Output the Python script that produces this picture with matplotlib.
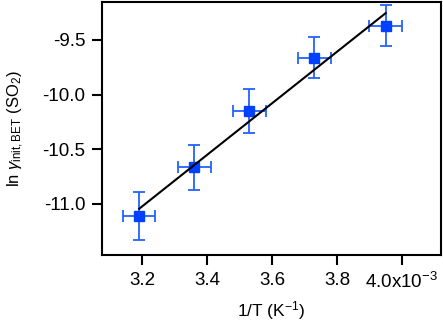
import matplotlib
matplotlib.use('Agg')
import matplotlib.pyplot as plt
from matplotlib.ticker import FuncFormatter
import numpy as np

plt.rcParams['font.family'] = ['Liberation Sans', 'DejaVu Sans']
plt.rcParams['mathtext.fontset'] = 'custom'
plt.rcParams['mathtext.rm'] = 'Liberation Sans'
plt.rcParams['mathtext.it'] = 'Liberation Sans:italic'

# data
inv_T = np.array([3.19e-3, 3.36e-3, 3.53e-3, 3.73e-3, 3.95e-3])
ln_gamma = np.array([-11.11, -10.667, -10.153, -9.662, -9.369])
x_err = np.array([0.05e-3, 0.05e-3, 0.05e-3, 0.05e-3, 0.05e-3])
y_err = np.array([0.22, 0.21, 0.20, 0.19, 0.19])
x_ticks = [3.2e-3, 3.4e-3, 3.6e-3, 3.8e-3, 4.0e-3]
y_ticks = [-11.0, -10.5, -10.0, -9.5]

fig = plt.figure(figsize=(4.43, 3.23), dpi=100)
ax = fig.add_axes([0.230, 0.211, 0.765, 0.783])

ax.errorbar(inv_T, ln_gamma, xerr=x_err, yerr=y_err, fmt='none',
            ecolor='#2462ff', elinewidth=1.3, capsize=4.5, capthick=1.3, zorder=2)
ax.plot(inv_T, ln_gamma, 's', color='#0040ff', ms=6.5, zorder=3)

# linear fit
slope, icpt = np.polyfit(inv_T, ln_gamma, 1)
xf = np.array([inv_T.min(), inv_T.max()])
ax.plot(xf, slope * xf + icpt, color='black', lw=1.5, zorder=4)

ax.set_xlim(3.075e-3, 4.12e-3)
ax.set_ylim(-11.467, -9.152)
ax.set_xticks(x_ticks)
ax.set_yticks(y_ticks)

def fmt_x(v, pos):
    if abs(v - 4.0e-3) < 1e-9:
        return r'4.0x10$^{-3}$'
    return '%.1f' % (v * 1e3)

ax.xaxis.set_major_formatter(FuncFormatter(fmt_x))
ax.yaxis.set_major_formatter(FuncFormatter(lambda v, p: '%.1f' % v))

for s in ax.spines.values():
    s.set_linewidth(1.5)
ax.tick_params(direction='out', length=7, width=1.5, labelsize=13.5, pad=5)
ax.tick_params(top=False, right=False)

ax.set_xlabel(r'1/T (K$^{-1}$)', fontsize=12.5, labelpad=5.5)
ax.set_ylabel(r'ln $\gamma_{\rm init,BET}$ (SO$_2$)', fontsize=12, labelpad=12)

fig.savefig('out.png', dpi=100)
